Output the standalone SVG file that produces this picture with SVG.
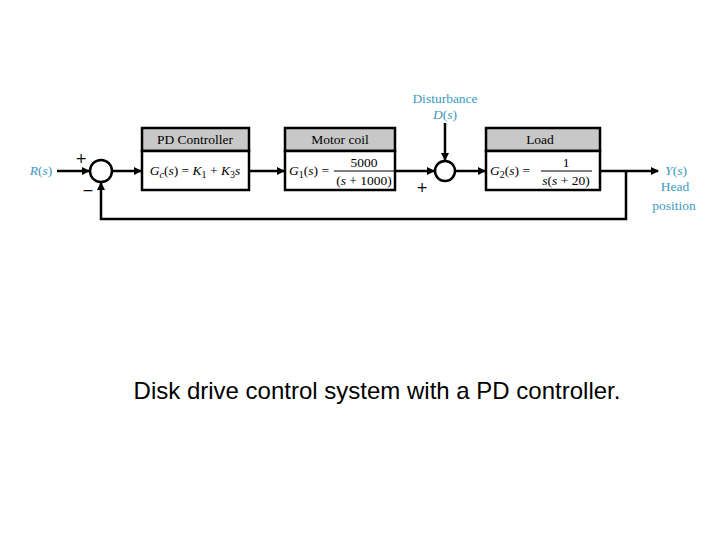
<svg xmlns="http://www.w3.org/2000/svg" width="720" height="540" viewBox="0 0 720 540">
<style>
.box{fill:#fff;stroke:#000;stroke-width:2.5}
.hdr{fill:#c8c8c8;stroke:#000;stroke-width:2.5}
.ln{stroke:#000;stroke-width:2.5;fill:none}
.t{font-family:"Liberation Serif",serif;font-size:13.5px;fill:#000}
.s{font-family:"DejaVu Sans",sans-serif;font-size:14px;fill:#000}
.b{font-family:"Liberation Serif",serif;font-size:13.5px;fill:#3a9ac0}
.i{font-style:italic}
</style>
<defs><marker id="a" markerWidth="8" markerHeight="8" refX="7" refY="4" orient="auto" markerUnits="userSpaceOnUse"><path d="M0,0L8,4L0,8z" fill="#000"/></marker></defs>
<rect width="720" height="540" fill="#fff"/>
<g id="connectors">
<line class="ln" x1="57" y1="171" x2="89" y2="171" marker-end="url(#a)"/>
<line class="ln" x1="112" y1="171" x2="141" y2="171" marker-end="url(#a)"/>
<line class="ln" x1="249" y1="171" x2="284" y2="171" marker-end="url(#a)"/>
<line class="ln" x1="395" y1="171" x2="434" y2="171" marker-end="url(#a)"/>
<line class="ln" x1="445" y1="123" x2="445" y2="160" marker-end="url(#a)"/>
<line class="ln" x1="455" y1="171" x2="485" y2="171" marker-end="url(#a)"/>
<line class="ln" x1="600" y1="171" x2="658" y2="171" marker-end="url(#a)"/>
<polyline class="ln" points="626,171 626,219 101,219 101,183" marker-end="url(#a)"/>
</g>
<g id="sum1"><circle cx="101" cy="171" r="11" class="box" stroke-width="2"/>
<text class="s" x="81" y="163" text-anchor="middle">+</text><text class="s" x="88" y="195" text-anchor="middle">−</text></g>
<g id="sum2"><circle cx="445" cy="171" r="10" class="box" stroke-width="2"/>
<text class="s" x="422" y="192" text-anchor="middle">+</text></g>
<g id="input"><text class="b" x="41" y="175" text-anchor="middle"><tspan class="i">R</tspan>(<tspan class="i">s</tspan>)</text></g>
<g id="pd"><rect class="hdr" x="142" y="128" width="107" height="23"/><rect class="box" x="142" y="151" width="107" height="39"/>
<text class="t" x="195" y="144" text-anchor="middle">PD Controller</text>
<text class="t" x="195" y="175" text-anchor="middle"><tspan class="i">G<tspan font-size="10" dy="3">c</tspan></tspan><tspan dy="-3">(</tspan><tspan class="i">s</tspan>) = <tspan class="i">K</tspan><tspan font-size="10" dy="3">1</tspan><tspan dy="-3"> + </tspan><tspan class="i">K</tspan><tspan font-size="10" dy="3">3</tspan><tspan class="i" dy="-3">s</tspan></text></g>
<g id="motor"><rect class="hdr" x="285" y="128" width="110" height="23"/><rect class="box" x="285" y="151" width="110" height="39"/>
<text class="t" x="340" y="144" text-anchor="middle">Motor coil</text>
<text class="t" x="289" y="175"><tspan class="i">G</tspan><tspan font-size="10" dy="3">1</tspan><tspan dy="-3">(</tspan><tspan class="i">s</tspan>) =</text>
<text class="t" x="364" y="167" text-anchor="middle">5000</text>
<line x1="334" y1="171" x2="394" y2="171" stroke="#000" stroke-width="1"/>
<text class="t" x="364" y="185" text-anchor="middle">(<tspan class="i">s</tspan> + 1000)</text></g>
<g id="dist"><text class="b" x="445" y="103" text-anchor="middle">Disturbance</text>
<text class="b" x="445" y="119" text-anchor="middle"><tspan class="i">D</tspan>(<tspan class="i">s</tspan>)</text></g>
<g id="load"><rect class="hdr" x="486" y="128" width="114" height="23"/><rect class="box" x="486" y="151" width="114" height="39"/>
<text class="t" x="540" y="144" text-anchor="middle">Load</text>
<text class="t" x="490" y="175"><tspan class="i">G</tspan><tspan font-size="10" dy="3">2</tspan><tspan dy="-3">(</tspan><tspan class="i">s</tspan>) =</text>
<text class="t" x="566" y="167" text-anchor="middle">1</text>
<line x1="541" y1="171" x2="592" y2="171" stroke="#000" stroke-width="1"/>
<text class="t" x="566" y="185" text-anchor="middle"><tspan class="i">s</tspan>(<tspan class="i">s</tspan> + 20)</text></g>
<g id="output"><text class="b" x="676" y="175" text-anchor="middle"><tspan class="i">Y</tspan>(<tspan class="i">s</tspan>)</text>
<text class="b" x="675" y="191" text-anchor="middle">Head</text>
<text class="b" x="674" y="210" text-anchor="middle">position</text></g>
<text x="377" y="399" text-anchor="middle" font-family="Liberation Sans,Arial,sans-serif" font-size="24">Disk drive control system with a PD controller.</text>
</svg>
